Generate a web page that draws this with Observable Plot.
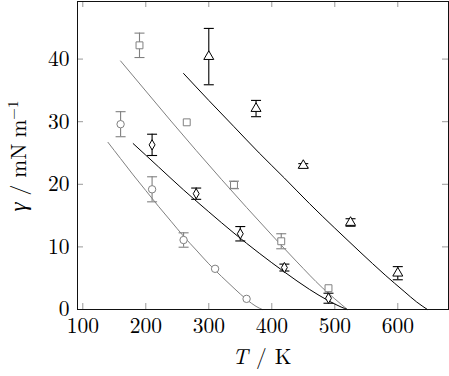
<!DOCTYPE html>
<html>
<head>
<meta charset="utf-8">
<script src="https://cdn.jsdelivr.net/npm/d3@7"></script>
<script src="https://cdn.jsdelivr.net/npm/@observablehq/plot@0.6"></script>
<style>
  html, body { margin: 0; padding: 0; background: #fff; }
  #chart { position: relative; width: 449px; height: 376px; }
</style>
</head>
<body>
<div id="chart"></div>
<script>
// tick labels
const xTicks = [100, 200, 300, 400, 500, 600];
const yTicks = [0, 10, 20, 30, 40];

// measured data (T in K, gamma in mN/m, error half-width)
const circleT = [160, 210, 260, 310, 360];
const circleG = [29.6, 19.2, 11.1, 6.5, 1.7];
const circleE = [2.0, 2.0, 1.15, 0, 0];

const squareT = [190, 265, 340, 415, 490];
const squareG = [42.2, 29.9, 19.9, 10.9, 3.4];
const squareE = [1.95, 0, 0.6, 1.2, 0];

const diamondT = [210, 280, 350, 420, 490];
const diamondG = [26.3, 18.5, 12.1, 6.7, 1.8];
const diamondE = [1.7, 0.9, 1.15, 0.55, 0.8];

const triangleT = [300, 375, 450, 525, 600];
const triangleG = [40.4, 32.1, 23.0, 13.9, 5.8];
const triangleE = [4.5, 1.3, 0.3, 0.6, 1.05];

// fitted curves
const fitCircleT = [140, 160, 180, 200, 220, 240, 260, 280, 300, 320, 340, 360, 375, 385];
const fitCircleG = [26.7, 24.1, 21.5, 19.0, 16.5, 14.1, 11.7, 9.5, 7.3, 5.3, 3.4, 1.6, 0.5, 0];
const fitSquareT = [160, 200, 240, 280, 320, 360, 400, 440, 480, 500, 520];
const fitSquareG = [39.7, 34.9, 30.1, 25.4, 20.8, 16.3, 11.9, 7.6, 3.5, 1.7, 0];
const fitDiamondT = [180, 220, 260, 300, 340, 380, 420, 460, 490, 510, 520];
const fitDiamondG = [26.5, 22.8, 19.1, 15.6, 12.2, 9.0, 6.0, 3.2, 1.4, 0.4, 0];
const fitTriangleT = [260, 300, 340, 380, 420, 460, 500, 540, 580, 610, 630, 647];
const fitTriangleG = [37.7, 33.4, 29.2, 25.0, 21.0, 16.9, 13.0, 9.2, 5.5, 2.9, 1.2, 0];

const GRAY = "#808080";
const BLACK = "#000000";
const TICK = "#9a9a9a";
const FONT = '"Latin Modern Roman", "Liberation Serif", serif';
const GREEK = '"Liberation Serif", serif';

const pts = (T, G, E) => T.map((t, i) => ({t, g: G[i], e: E ? E[i] : 0}));
const curve = (T, G) => T.map((t, i) => ({t, g: G[i]}));

const series = [
  {data: pts(circleT, circleG, circleE), fit: curve(fitCircleT, fitCircleG), color: GRAY, symbol: "circle", r: 3.7},
  {data: pts(squareT, squareG, squareE), fit: curve(fitSquareT, fitSquareG), color: GRAY, symbol: "square", r: 3.9},
  {data: pts(diamondT, diamondG, diamondE), fit: curve(fitDiamondT, fitDiamondG), color: BLACK, symbol: "diamond", r: 3.1},
  {data: pts(triangleT, triangleG, triangleE), fit: curve(fitTriangleT, fitTriangleG), color: BLACK, symbol: "triangle", r: 3.7}
];

const capSymbol = {draw(ctx) { ctx.moveTo(-5, 0); ctx.lineTo(5, 0); }};

const W = 449, H = 376;
const mL = 77, mR = 1, mT = 1, mB = 67;
const pw = W - mL - mR, ph = H - mT - mB;

const marks = [
  Plot.ruleX(xTicks, {x: d => d, insetTop: ph - 6, stroke: TICK, strokeWidth: 1}),
  Plot.ruleX(xTicks, {x: d => d, insetBottom: ph - 6, stroke: TICK, strokeWidth: 1}),
  Plot.ruleY(yTicks, {y: d => d, insetRight: pw - 6, stroke: TICK, strokeWidth: 1}),
  Plot.ruleY(yTicks, {y: d => d, insetLeft: pw - 6, stroke: TICK, strokeWidth: 1}),
];

for (const s of series) {
  marks.push(Plot.line(s.fit, {x: "t", y: "g", stroke: s.color, strokeWidth: 1, curve: "monotone-x"}));
}
for (const s of series) {
  const eb = s.data.filter(d => d.e > 0);
  marks.push(Plot.ruleX(eb, {x: "t", y1: d => d.g - d.e, y2: d => d.g + d.e, stroke: s.color, strokeWidth: 1.1}));
  marks.push(Plot.dot(eb, {x: "t", y: d => d.g - d.e, symbol: capSymbol, stroke: s.color, strokeWidth: 1.1, fill: "none"}));
  marks.push(Plot.dot(eb, {x: "t", y: d => d.g + d.e, symbol: capSymbol, stroke: s.color, strokeWidth: 1.1, fill: "none"}));
  marks.push(Plot.dot(s.data, {x: "t", y: "g", symbol: s.symbol, r: s.r, stroke: s.color, strokeWidth: 1, fill: "white"}));
}

marks.push(Plot.frame({stroke: "#111", strokeWidth: 1}));
marks.push(Plot.axisX(xTicks, {tickSize: 0, tickPadding: 8, label: null, fill: "#000", fontSize: 21.5, fontFamily: FONT}));
marks.push(Plot.axisY(yTicks, {tickSize: 0, tickPadding: 8, label: null, fill: "#000", fontSize: 21.5, fontFamily: FONT}));

const chart = Plot.plot({
  width: W,
  height: H,
  marginLeft: mL,
  marginRight: mR,
  marginTop: mT,
  marginBottom: mB,
  x: {domain: [91.6, 680.5]},
  y: {domain: [0, 49.2]},
  style: {fontFamily: FONT, fontSize: "21.5px", color: "#000", background: "#fff"},
  marks
});

const svg = d3.select(chart);
const xl = svg.append("text")
  .attr("x", 262).attr("y", 364)
  .attr("text-anchor", "middle")
  .attr("font-size", 21.5).attr("fill", "#000");
xl.append("tspan").style("font-style", "italic").text("T");
xl.append("tspan").attr("dx", 8).text("/");
xl.append("tspan").attr("dx", 8).text("K");

const yl = svg.append("text")
  .attr("transform", "translate(26,156) rotate(-90)")
  .attr("text-anchor", "middle")
  .attr("font-size", 21.5).attr("fill", "#000");
yl.append("tspan").attr("class", "greek").style("font-style", "italic").text("\u03b3");
yl.append("tspan").attr("dx", 7).text("/");
yl.append("tspan").attr("dx", 7).text("mN");
yl.append("tspan").attr("dx", 6).text("m");
yl.append("tspan").attr("dy", -8).attr("font-size", 15).text("\u22121");

svg.selectAll("text").attr("font-family", FONT).style("font-family", FONT);
svg.selectAll("tspan.greek").attr("font-family", GREEK).style("font-family", GREEK).attr("font-size", 23);

document.getElementById("chart").appendChild(chart);
</script>
</body>
</html>
